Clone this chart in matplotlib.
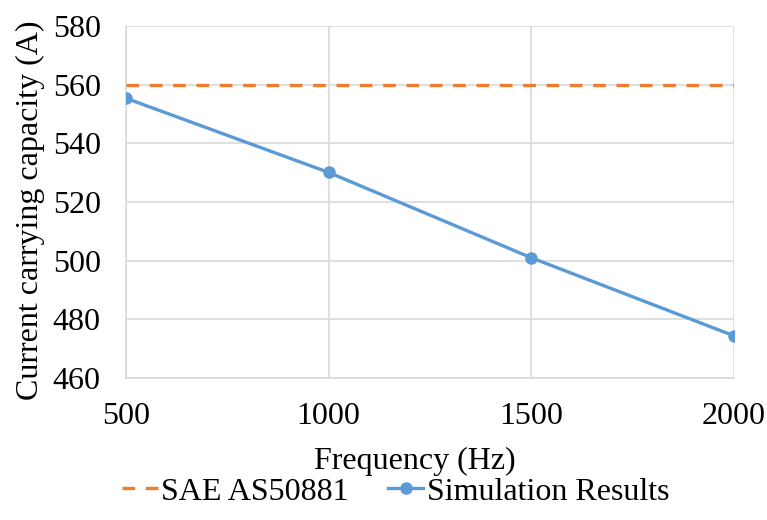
import matplotlib
matplotlib.use("Agg")
import matplotlib.pyplot as plt

frequency = [500, 1000, 1500, 2000]
simulation = [555.4, 530.1, 501.0, 474.4]
sae_limit = [560, 560, 560, 560]

xticks = [500, 1000, 1500, 2000]
yticks = [460, 480, 500, 520, 540, 560, 580]

plt.rcParams['font.family'] = ['Liberation Serif', 'DejaVu Serif']

fig = plt.figure(figsize=(7.67, 5.2), dpi=100)
ax = fig.add_axes([0.164, 0.273, 0.793, 0.677])

ax.plot(frequency, sae_limit, color='#ED7D31', lw=2.4, ls=(0, (3.8, 3.2)),
        label='SAE AS50881', zorder=3)
ax.plot(frequency, simulation, color='#5B9BD5', lw=2.4, marker='o', ms=8,
        label='Simulation Results', zorder=4)

ax.set_xlim(500, 2000)
ax.set_ylim(460, 580)
ax.set_xticks(xticks)
ax.set_yticks(yticks)
ax.grid(True, color='#d9d9d9', lw=1.2)
ax.set_axisbelow(True)
for s in ax.spines.values():
    s.set_visible(False)
for side in ('left', 'bottom'):
    ax.spines[side].set_visible(True)
    ax.spines[side].set_color('#d9d9d9')
    ax.spines[side].set_linewidth(1.2)
ax.tick_params(length=0, labelsize=23)
ax.tick_params(axis='y', pad=18)
ax.tick_params(axis='x', pad=17)

ax.set_xlabel('Frequency (Hz)', fontsize=23)
ax.set_ylabel('Current carrying capacity (A)', fontsize=23)
ax.xaxis.set_label_coords(0.475, -0.236)
ax.xaxis.label.set_va('center')
ax.yaxis.set_label_coords(-0.156, 0.477)
ax.yaxis.label.set_va('center')
ax.yaxis.label.set_ha('center')

fig.legend(*ax.get_legend_handles_labels(), loc='center',
           bbox_to_anchor=(0.516, 0.054), bbox_transform=fig.transFigure,
           ncol=2, frameon=False, fontsize=23, handlelength=1.1,
           handletextpad=0.1, columnspacing=1.25, borderpad=0)

fig.savefig('out.png', dpi=100)
